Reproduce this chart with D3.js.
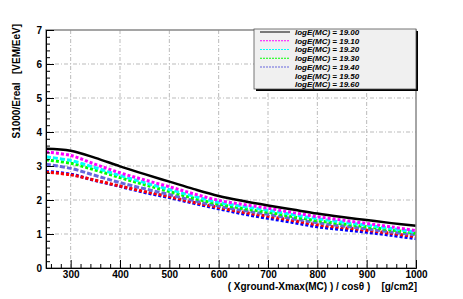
<!doctype html>
<html lang="en">
  <head>
    <meta charset="utf-8">
    <title>S1000/Ereal vs slant depth</title>
    <script src="https://d3js.org/d3.v7.min.js"></script>
    <style>
    body { margin: 0; background: #fff; }
    text { font-family: "Liberation Sans", Arial, sans-serif; }
    .grid line { stroke: #bbb; stroke-dasharray: 4,2,1,2; }
    .axis path { stroke: #000; }
    .axis line { stroke: #000; }
    .axis text { font-size: 10px; font-weight: bold; fill: #000; }
    </style>
  </head>

  <body>
    <div id="chart">
      <svg width="463" height="299"></svg>
    </div>

    <script>
      // slant depth sample points
      var depth = [250, 300, 350, 400, 450, 500, 550, 600, 650, 700, 750, 800, 850, 900, 950, 1000];

      var e1900 = [3.51, 3.45, 3.24, 2.99, 2.76, 2.54, 2.32, 2.12, 1.97, 1.84, 1.72, 1.60, 1.50, 1.41, 1.32, 1.24];
      var e1910 = [3.41, 3.31, 3.05, 2.80, 2.59, 2.39, 2.18, 1.99, 1.87, 1.76, 1.63, 1.51, 1.41, 1.31, 1.21, 1.10];
      var e1920 = [3.27, 3.16, 2.95, 2.72, 2.51, 2.31, 2.11, 1.93, 1.81, 1.70, 1.57, 1.45, 1.35, 1.26, 1.16, 1.06];
      var e1930 = [3.18, 3.08, 2.88, 2.66, 2.45, 2.25, 2.05, 1.88, 1.75, 1.64, 1.51, 1.39, 1.30, 1.21, 1.12, 1.02];
      var e1940 = [3.05, 2.93, 2.72, 2.51, 2.33, 2.16, 1.98, 1.82, 1.69, 1.58, 1.45, 1.33, 1.24, 1.15, 1.06, 0.97];
      var e1950 = [2.82, 2.74, 2.58, 2.41, 2.25, 2.10, 1.93, 1.78, 1.64, 1.52, 1.40, 1.27, 1.19, 1.11, 1.02, 0.92];
      var e1960 = [2.84, 2.76, 2.57, 2.40, 2.22, 2.07, 1.90, 1.74, 1.59, 1.46, 1.34, 1.21, 1.13, 1.05, 0.96, 0.86];

      var legendLabels = ['logE(MC) = 19.00', 'logE(MC) = 19.10', 'logE(MC) = 19.20', 'logE(MC) = 19.30',
                          'logE(MC) = 19.40', 'logE(MC) = 19.50', 'logE(MC) = 19.60'];

      var xTicks = [300, 400, 500, 600, 700, 800, 900, 1000];
      var yTicks = [0, 1, 2, 3, 4, 5, 6, 7];

      var series = [
        { label: legendLabels[0], values: e1900, color: '#000000', dash: null, inLegend: true },
        { label: legendLabels[1], values: e1910, color: '#ff00ff', dash: '3,2', inLegend: true },
        { label: legendLabels[2], values: e1920, color: '#00ffff', dash: '5,2', inLegend: true },
        { label: legendLabels[3], values: e1930, color: '#00ff00', dash: '3,2', inLegend: true },
        { label: legendLabels[4], values: e1940, color: '#6666dd', dash: '5,2', inLegend: true },
        { label: legendLabels[5], values: e1950, color: '#ff0000', dash: '3,2', inLegend: false },
        { label: legendLabels[6], values: e1960, color: '#0000ff', dash: '3,2', inLegend: false }
      ];

      var svg = d3.select('svg');

      var x = d3.scaleLinear().domain([250, 1000]).range([46, 416]);
      var y = d3.scaleLinear().domain([0, 7]).range([268, 30]);

      // grid
      svg.append('g').attr('class', 'grid')
        .selectAll('line').data(xTicks.slice(0, -1))
        .enter().append('line')
          .attr('x1', function(d){ return x(d); }).attr('x2', function(d){ return x(d); })
          .attr('y1', y(0)).attr('y2', y(7));
      svg.append('g').attr('class', 'grid')
        .selectAll('line').data(yTicks.slice(1, -1))
        .enter().append('line')
          .attr('y1', function(d){ return y(d); }).attr('y2', function(d){ return y(d); })
          .attr('x1', x(250)).attr('x2', x(1000));

      // curves
      var line = d3.line()
        .x(function(d, i){ return x(depth[i]); })
        .y(function(d){ return y(d); })
        .curve(d3.curveCatmullRom);

      svg.append('g')
        .selectAll('path').data(series.slice().reverse())
        .enter().append('path')
          .attr('d', function(s){ return line(s.values); })
          .attr('fill', 'none')
          .attr('stroke', function(s){ return s.color; })
          .attr('stroke-width', function(s){ return s.dash ? 3 : 2.5; })
          .attr('stroke-dasharray', function(s){ return s.dash; });

      // frame
      svg.append('rect')
        .attr('x', x(250)).attr('y', y(7))
        .attr('width', x(1000) - x(250)).attr('height', y(0) - y(7))
        .attr('fill', 'none').attr('stroke', '#888').attr('stroke-width', 1.5);

      // axes
      var xMinor = d3.range(260, 1001, 20).filter(function(v){ return v % 100 !== 0; });
      var yMinor = d3.range(0, 7.01, 0.2).filter(function(v){ return Math.abs(v - Math.round(v)) > 0.01; });

      svg.append('g').attr('class', 'axis')
        .attr('transform', 'translate(0,' + y(0) + ')')
        .call(d3.axisBottom(x).tickValues(xTicks).tickFormat(d3.format('d'))
          .tickSize(-8).tickPadding(3).tickSizeOuter(0));
      svg.append('g').attr('class', 'axis')
        .attr('transform', 'translate(0,' + y(0) + ')')
        .call(d3.axisBottom(x).tickValues(xMinor).tickSize(-4).tickFormat('').tickSizeOuter(0));

      svg.append('g').attr('class', 'axis')
        .attr('transform', 'translate(' + x(250) + ',0)')
        .call(d3.axisLeft(y).tickValues(yTicks).tickFormat(d3.format('d'))
          .tickSize(-8).tickPadding(4).tickSizeOuter(0));
      svg.append('g').attr('class', 'axis')
        .attr('transform', 'translate(' + x(250) + ',0)')
        .call(d3.axisLeft(y).tickValues(yMinor).tickSize(-4).tickFormat('').tickSizeOuter(0));

      svg.selectAll('.axis .domain').attr('stroke', '#000');

      // axis titles
      svg.append('text')
        .attr('x', 417).attr('y', 290)
        .attr('text-anchor', 'end')
        .attr('font-size', 10).attr('font-weight', 'bold')
        .attr('xml:space', 'preserve')
        .text('( Xground-Xmax(MC) ) / cosθ )    [g/cm2]');

      svg.append('text')
        .attr('transform', 'translate(20,24) rotate(-90)')
        .attr('text-anchor', 'end')
        .attr('font-size', 10).attr('font-weight', 'bold')
        .attr('xml:space', 'preserve')
        .text('S1000/Ereal   [VEM/EeV]');

      // legend
      var leg = svg.append('g').attr('transform', 'translate(254,29)');
      leg.append('rect').attr('x', 2).attr('y', 2).attr('width', 162).attr('height', 60).attr('fill', '#000');
      leg.append('rect').attr('x', 0).attr('y', 0).attr('width', 162).attr('height', 60)
        .attr('fill', '#f0f0f0').attr('stroke', '#555').attr('stroke-width', 0.8);

      var rows = leg.selectAll('g.row').data(series)
        .enter().append('g').attr('class', 'row')
          .attr('transform', function(s, i){ return 'translate(0,' + (3 + i * 8.75) + ')'; });
      rows.filter(function(s){ return s.inLegend; }).append('line')
        .attr('x1', 6).attr('x2', 36).attr('y1', 0).attr('y2', 0)
        .attr('stroke', function(s){ return s.color; })
        .attr('stroke-width', 1)
        .attr('stroke-dasharray', function(s){ return s.dash ? '2,1' : null; });
      rows.append('text')
        .attr('x', 41).attr('y', 2.8)
        .attr('font-size', 8).attr('font-weight', 'bold').attr('font-style', 'italic')
        .text(function(s){ return s.label; });
    </script>
  </body>
</html>
